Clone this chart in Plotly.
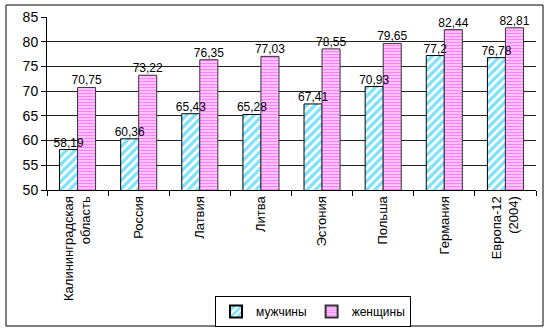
import plotly.graph_objects as go

categories = ["Калининградская<br>область", "Россия", "Латвия", "Литва", "Эстония",
              "Польша", "Германия", "Европа-12<br>(2004)"]
men = [58.19, 60.36, 65.43, 65.28, 67.41, 70.93, 77.2, 76.78]
women = [70.75, 73.22, 76.35, 77.03, 78.55, 79.65, 82.44, 82.81]
series_names = ["мужчины", "женщины"]
y_ticks = [50, 55, 60, 65, 70, 75, 80, 85]


def fmt(v):
    s = ("%.2f" % v).rstrip("0").rstrip(".")
    return s.replace(".", ",")


FONT = "Arial, Liberation Sans, sans-serif"
GAP = 0.41

fig = go.Figure()
fig.add_trace(go.Bar(
    x=categories, y=men, name=series_names[0], offsetgroup="m",
    marker=dict(color="white", line=dict(color="black", width=1),
                pattern=dict(shape="/", fgcolor="#00C4F4", bgcolor="white",
                             size=6, solidity=0.55)),
))
fig.add_trace(go.Bar(
    x=categories, y=women, name=series_names[1], offsetgroup="w",
    marker=dict(color="white", line=dict(color="#333333", width=1),
                pattern=dict(shape="-", fgcolor="#FF00FF", bgcolor="white",
                             size=3, solidity=0.65)),
))
# value labels as grouped text traces so they sit on top of all bars
for vals, grp in ((men, "m"), (women, "w")):
    fig.add_trace(go.Scatter(
        x=categories, y=vals, mode="text", text=[fmt(v) for v in vals],
        textposition="top center", offsetgroup=grp, showlegend=False,
        textfont=dict(size=12, color="black", family=FONT),
        cliponaxis=False, hoverinfo="skip",
    ))

# plot area in pixels: x 47..536, y 17..190
px0, px1, py0, py1 = 47, 536, 190, 17
W, H = px1 - px0, py0 - py1


def xp(v):
    return (v - px0) / W


def yp(v):
    return (py0 - v) / H


fig.update_layout(
    width=550, height=332,
    margin=dict(l=px0, r=550 - px1, t=py1, b=332 - py0, autoexpand=False),
    paper_bgcolor="white", plot_bgcolor="white",
    font=dict(family=FONT, size=12, color="black"),
    barmode="group", bargap=GAP, bargroupgap=0,
    scattermode="group", scattergap=GAP,
    showlegend=True,
    legend=dict(orientation="h", x=xp(313), y=yp(296), xanchor="center", yanchor="top",
                bordercolor="black", borderwidth=1, bgcolor="white",
                font=dict(size=12, family=FONT), itemwidth=30,
                tracegroupgap=0, itemsizing="constant"),
    xaxis=dict(tickangle=-90, tickson="boundaries", ticks="outside", ticklen=5,
               tickcolor="black", showline=True, linecolor="black", linewidth=1,
               tickfont=dict(size=13, family=FONT), showgrid=False, automargin=False),
    yaxis=dict(range=[50, 85], tickvals=y_ticks, ticks="outside", ticklen=5,
               tickcolor="black", showline=True, linecolor="black", linewidth=1,
               showgrid=True, gridcolor="#222222", gridwidth=1, automargin=False,
               tickfont=dict(size=14, family=FONT)),
    shapes=[dict(type="rect", xref="paper", yref="paper",
                 x0=xp(6), x1=xp(543), y0=yp(326), y1=yp(5),
                 line=dict(color="black", width=1), layer="below")],
)

fig.write_html("out.html")
